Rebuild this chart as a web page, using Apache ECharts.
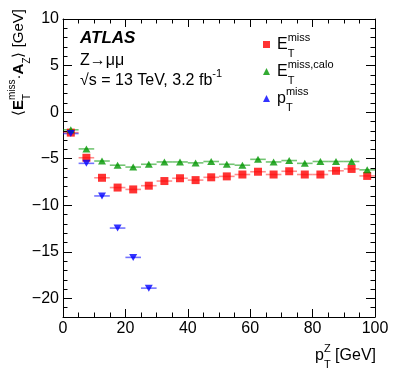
<!DOCTYPE html>
<html>
<head>
<meta charset="utf-8">
<script src="https://cdn.jsdelivr.net/npm/echarts@6/dist/echarts.min.js"></script>
<style>
	html, body { margin: 0; padding: 0; background: #fff; }
	#main { width: 395px; height: 379px; }
</style>
</head>
<body>
<div id="main"></div>
<script>
	// bin centres, pT^Z [GeV]
	var xBins = [2.5, 7.5, 12.5, 17.5, 22.5, 27.5, 32.5, 37.5, 42.5, 47.5,
		52.5, 57.5, 62.5, 67.5, 72.5, 77.5, 82.5, 87.5, 92.5, 97.5];
	var binHalf = 2.5;
	// <E_T^miss . A_Z> [GeV]
	var etMiss = [-2.2, -4.9, -7.05, -8.1, -8.3, -7.9, -7.4, -7.1, -7.3, -7.0,
		-6.9, -6.7, -6.4, -6.7, -6.35, -6.7, -6.7, -6.3, -6.1, -6.85];
	var etMissCalo = [-1.9, -3.95, -5.25, -5.7, -5.9, -5.6, -5.35, -5.35, -5.45, -5.3,
		-5.6, -5.7, -5.07, -5.35, -5.2, -5.5, -5.3, -5.3, -5.3, -6.2];
	var ptMiss = [-2.3, -5.5, -9.0, -12.45, -15.6, -18.9];
	var xTicks = [0, 100, 20];
	var yTicks = [-22, 10, 5];

	var FONT = '"Liberation Sans", Arial, sans-serif';
	var ctx = document.createElement('canvas').getContext('2d');

	function tw(txt, f) {
		ctx.font = f;
		return ctx.measureText(txt).width;
	};

	function fontStr(p) {
		return (p.style || 'normal') + ' ' + (p.weight || 'normal') + ' ' + p.size + 'px ' + FONT;
	};

	function txt(s, x, y, f) {
		return {
			type: 'text', x: x, y: y, silent: true,
			style: { text: s, font: f, fill: '#000', textAlign: 'left', textVerticalAlign: 'middle', align: 'left', verticalAlign: 'middle' }
		};
	};

	// text with stacked sup/sub scripts (ROOT style)
	function mathGroup(pieces, x, y, rot, alignRight) {
		var kids = [], cx = 0;
		pieces.forEach(function(p) {
			if (p.t !== undefined) {
				var f = fontStr(p);
				kids.push(txt(p.t, cx, 0, f));
				cx += tw(p.t, f);
			} else {
				var f2 = p.size + 'px ' + FONT, w = 0;
				if (p.sup) {
					kids.push(txt(p.sup, cx, -p.base * 0.45, f2));
					w = Math.max(w, tw(p.sup, f2));
				}
				if (p.sub) {
					kids.push(txt(p.sub, cx, p.base * 0.55, f2));
					w = Math.max(w, tw(p.sub, f2));
				}
				cx += w;
			}
		});
		if (alignRight) {
			kids.forEach(function(k) { k.x -= cx; });
		}
		return { type: 'group', x: x, y: y, rotation: rot || 0, children: kids };
	};

	function pairs(xs, ys) {
		var out = [];
		for (var i = 0; i < ys.length; i++) out.push([xs[i], ys[i]]);
		return out;
	};

	function errBars(name, data, color) {
		return {
			type: 'custom',
			name: name + '_err',
			xAxisIndex: 0,
			yAxisIndex: 0,
			z: 1,
			silent: true,
			data: data,
			renderItem: function(params, api) {
				var p1 = api.coord([api.value(0) - binHalf, api.value(1)]);
				var p2 = api.coord([api.value(0) + binHalf, api.value(1)]);
				return {
					type: 'line',
					shape: { x1: p1[0], y1: p1[1], x2: p2[0], y2: p2[1] },
					style: { stroke: color, lineWidth: 1.6 }
				};
			}
		};
	};

	var minus = function(v) { return String(v).replace('-', '\u2212'); };
	var gridTop = 19, gridBot = 62, plotH = 379 - gridTop - gridBot;
	var bottomB = gridBot + (plotH / (yTicks[1] - yTicks[0])) * (-20 - yTicks[0]);

	var myChart = echarts.init(document.getElementById('main'));
	var option = {
		animation: false,
		backgroundColor: '#fff',
		grid: [
			{ left: 63, right: 20, top: gridTop, bottom: gridBot },
			{ left: 63, right: 20, top: gridTop, bottom: bottomB }
		],
		xAxis: [{
			gridIndex: 0, type: 'value', position: 'bottom',
			min: xTicks[0], max: xTicks[1], interval: xTicks[2],
			axisLine: { show: true, onZero: false, lineStyle: { color: '#000', width: 1 } },
			axisTick: { inside: true, length: 8, lineStyle: { color: '#000' } },
			minorTick: { show: true, splitNumber: 4, length: 4.5, lineStyle: { color: '#000' } },
			axisLabel: { color: '#000', fontSize: 16, fontFamily: FONT, margin: 4 },
			splitLine: { show: false }
		}, {
			gridIndex: 0, type: 'value', position: 'top',
			min: xTicks[0], max: xTicks[1], interval: xTicks[2],
			axisLine: { show: true, onZero: false, lineStyle: { color: '#000', width: 1 } },
			axisTick: { inside: true, length: 8, lineStyle: { color: '#000' } },
			minorTick: { show: true, splitNumber: 4, length: 4.5, lineStyle: { color: '#000' } },
			axisLabel: { show: false },
			splitLine: { show: false }
		}, {
			gridIndex: 1, type: 'value', show: false, min: xTicks[0], max: xTicks[1]
		}],
		yAxis: [{
			gridIndex: 0, type: 'value', position: 'left',
			min: yTicks[0], max: yTicks[1], interval: 1,
			axisLine: { show: true, onZero: false, lineStyle: { color: '#000', width: 1 } },
			axisTick: { inside: true, length: 4.5, lineStyle: { color: '#000' } },
			axisLabel: { show: false },
			splitLine: { show: false }
		}, {
			gridIndex: 0, type: 'value', position: 'right',
			min: yTicks[0], max: yTicks[1], interval: 1,
			axisLine: { show: true, onZero: false, lineStyle: { color: '#000', width: 1 } },
			axisTick: { inside: true, length: 4.5, lineStyle: { color: '#000' } },
			axisLabel: { show: false },
			splitLine: { show: false }
		}, {
			// major ticks + labels, -20..10
			gridIndex: 1, type: 'value', position: 'left',
			min: -20, max: yTicks[1], interval: yTicks[2],
			axisLine: { show: false },
			axisTick: { show: true, inside: true, length: 9, lineStyle: { color: '#000' } },
			axisLabel: { color: '#000', fontSize: 16, fontFamily: FONT, margin: 4, formatter: minus },
			splitLine: { show: false }
		}, {
			gridIndex: 1, type: 'value', position: 'right',
			min: -20, max: yTicks[1], interval: yTicks[2],
			axisLine: { show: false },
			axisTick: { show: true, inside: true, length: 9, lineStyle: { color: '#000' } },
			axisLabel: { show: false },
			splitLine: { show: false }
		}],
		legend: {
			orient: 'vertical',
			left: 263,
			top: 41,
			padding: 0,
			itemWidth: 7,
			itemHeight: 7,
			itemGap: 20,
			selectedMode: false,
			textStyle: { fontSize: 6, lineHeight: 7 },
			formatter: function() { return ''; },
			data: ['etMiss', 'etMissCalo', 'ptMiss']
		},
		series: [
			errBars('etMiss', pairs(xBins, etMiss), 'rgba(255,0,0,0.45)'),
			errBars('etMissCalo', pairs(xBins, etMissCalo), 'rgba(0,150,0,0.55)'),
			errBars('ptMiss', pairs(xBins, ptMiss), 'rgba(0,0,255,0.55)'),
			{
				type: 'scatter', name: 'etMiss', xAxisIndex: 0, yAxisIndex: 0, z: 3,
				symbol: 'rect', symbolSize: 8,
				itemStyle: { color: '#ff0000' },
				data: pairs(xBins, etMiss)
			}, {
				type: 'scatter', name: 'etMissCalo', xAxisIndex: 0, yAxisIndex: 0, z: 3,
				symbol: 'triangle', symbolSize: [8, 7],
				itemStyle: { color: '#009600' },
				data: pairs(xBins, etMissCalo)
			}, {
				type: 'scatter', name: 'ptMiss', xAxisIndex: 0, yAxisIndex: 0, z: 3,
				symbol: 'triangle', symbolSize: [8, 7], symbolRotate: 180,
				itemStyle: { color: '#0000ff' },
				data: pairs(xBins, ptMiss)
			}
		],
		graphic: [
			txt('ATLAS', 80, 38, 'italic bold 17px ' + FONT),
			txt('Z\u2192\u03bc\u03bc', 80, 61, '16px ' + FONT),
			mathGroup([{ t: '\u221as = 13 TeV, 3.2 fb', size: 16 }, { sup: '-1', size: 11, base: 16 }], 80, 81),
			mathGroup([{ t: 'E', size: 16 }, { sup: 'miss', sub: 'T', size: 11, base: 16 }], 277, 45),
			mathGroup([{ t: 'E', size: 16 }, { sup: 'miss,calo', sub: 'T', size: 11, base: 16 }], 277, 72),
			mathGroup([{ t: 'p', size: 16 }, { sup: 'miss', sub: 'T', size: 11, base: 16 }], 277, 99),
			mathGroup([{ t: 'p', size: 16 }, { sup: 'Z', sub: 'T', size: 11, base: 16 }, { t: ' [GeV]', size: 16 }], 376, 356, 0, true),
			mathGroup([
				{ t: '\u27e8', size: 15 },
				{ t: 'E', size: 15, weight: 'bold' },
				{ sup: 'miss', sub: 'T', size: 10, base: 15 },
				{ t: '\u00b7', size: 15 },
				{ t: 'A', size: 15, weight: 'bold' },
				{ sub: 'Z', size: 10, base: 15 },
				{ t: '\u27e9 [GeV]', size: 15 }
			], 19, 116, Math.PI / 2)
		]
	};
	myChart.setOption(option);
</script>
</body>
</html>
